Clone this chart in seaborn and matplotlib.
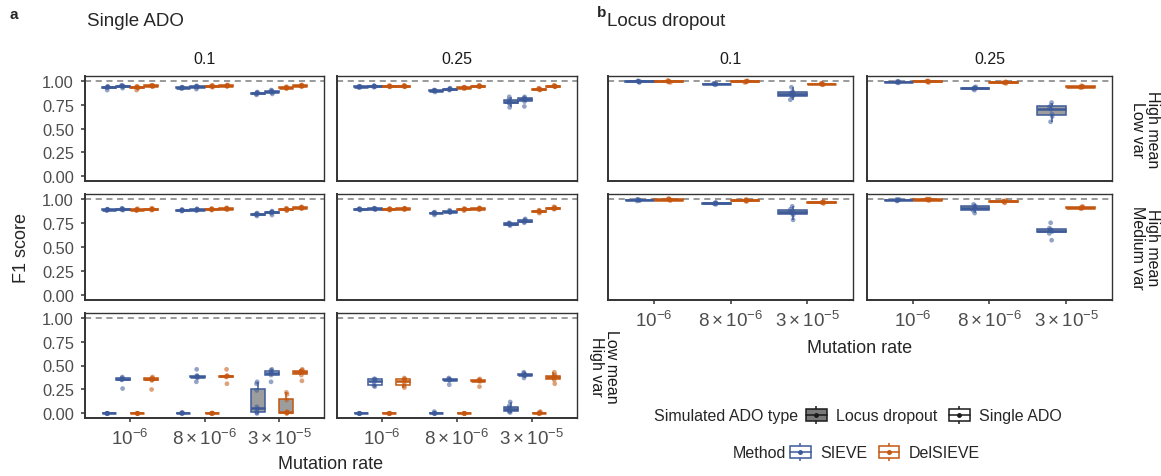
import pandas as pd
import seaborn as sns
import matplotlib
import matplotlib.pyplot as plt
from matplotlib.patches import Patch
from matplotlib.lines import Line2D

matplotlib.use('Agg')

W, H = 1161, 477

RATES = ['1e-6', '8e-6', '3e-5']
RATE_LABELS = [r'$10^{-6}$', r'$8\times10^{-6}$', r'$3\times10^{-5}$']
ADO_RATES = ['0.1', '0.25']
METHODS = ['SIEVE', 'DelSIEVE']
ADO_TYPES = ['Locus dropout', 'Single ADO']
method_colors = {'SIEVE': '#3C5A99', 'DelSIEVE': '#C4560F'}
ado_fill = {'Locus dropout': '#9D9D9D', 'Single ADO': 'white'}

# ---- panel a (simulated single ADO) ----
# per mutation rate: [SIEVE/locus, SIEVE/single, DelSIEVE/locus, DelSIEVE/single]
a_hl_010 = [
    [[0.93, 0.925, 0.935, 0.93, 0.90, 0.94], [0.945, 0.94, 0.95, 0.935, 0.945, 0.92],
     [0.93, 0.925, 0.935, 0.94, 0.90, 0.92], [0.945, 0.94, 0.95, 0.945, 0.935, 0.95]],
    [[0.925, 0.92, 0.93, 0.915, 0.925, 0.93], [0.935, 0.93, 0.94, 0.945, 0.91, 0.935],
     [0.94, 0.935, 0.945, 0.93, 0.94, 0.95], [0.945, 0.94, 0.95, 0.955, 0.94, 0.945]],
    [[0.87, 0.86, 0.88, 0.85, 0.875, 0.865], [0.885, 0.875, 0.90, 0.86, 0.895, 0.88],
     [0.925, 0.92, 0.93, 0.915, 0.925, 0.935], [0.945, 0.94, 0.95, 0.955, 0.935, 0.945]],
]
a_hl_025 = [
    [[0.935, 0.93, 0.94, 0.935, 0.925, 0.94], [0.94, 0.935, 0.945, 0.94, 0.93, 0.945],
     [0.94, 0.935, 0.945, 0.94, 0.935, 0.945], [0.94, 0.935, 0.945, 0.94, 0.95, 0.935]],
    [[0.895, 0.89, 0.90, 0.88, 0.895, 0.90], [0.91, 0.905, 0.915, 0.92, 0.90, 0.91],
     [0.925, 0.92, 0.93, 0.925, 0.915, 0.93], [0.94, 0.935, 0.945, 0.94, 0.95, 0.935]],
    [[0.78, 0.76, 0.80, 0.72, 0.83, 0.77], [0.80, 0.78, 0.82, 0.73, 0.83, 0.81],
     [0.91, 0.905, 0.915, 0.90, 0.91, 0.92], [0.94, 0.935, 0.945, 0.94, 0.935, 0.95]],
]
a_hm_010 = [
    [[0.885, 0.88, 0.89, 0.885, 0.875, 0.89], [0.89, 0.885, 0.895, 0.89, 0.88, 0.90],
     [0.885, 0.88, 0.89, 0.875, 0.885, 0.895], [0.89, 0.885, 0.895, 0.89, 0.88, 0.90]],
    [[0.88, 0.875, 0.885, 0.88, 0.87, 0.885], [0.885, 0.88, 0.89, 0.885, 0.875, 0.895],
     [0.89, 0.885, 0.895, 0.89, 0.88, 0.895], [0.895, 0.89, 0.90, 0.895, 0.885, 0.905]],
    [[0.84, 0.83, 0.85, 0.82, 0.845, 0.835], [0.86, 0.85, 0.87, 0.83, 0.865, 0.855],
     [0.89, 0.88, 0.895, 0.875, 0.89, 0.90], [0.905, 0.90, 0.91, 0.905, 0.895, 0.915]],
]
a_hm_025 = [
    [[0.89, 0.885, 0.895, 0.89, 0.88, 0.895], [0.895, 0.89, 0.90, 0.895, 0.885, 0.90],
     [0.89, 0.885, 0.895, 0.88, 0.89, 0.895], [0.895, 0.89, 0.90, 0.895, 0.885, 0.90]],
    [[0.85, 0.845, 0.86, 0.83, 0.855, 0.85], [0.865, 0.86, 0.87, 0.855, 0.88, 0.865],
     [0.89, 0.885, 0.895, 0.875, 0.89, 0.895], [0.895, 0.89, 0.90, 0.895, 0.885, 0.905]],
    [[0.74, 0.73, 0.75, 0.72, 0.745, 0.735], [0.77, 0.76, 0.78, 0.75, 0.79, 0.77],
     [0.87, 0.86, 0.88, 0.85, 0.875, 0.865], [0.90, 0.895, 0.91, 0.89, 0.915, 0.90]],
]
a_lh_010 = [
    [[0.0, 0.0, 0.002, 0.0, 0.001, 0.0], [0.355, 0.35, 0.36, 0.37, 0.26, 0.38],
     [0.0, 0.0, 0.001, 0.0, 0.002, 0.0], [0.35, 0.345, 0.36, 0.37, 0.25, 0.38]],
    [[0.005, 0.0, 0.01, 0.002, 0.0, 0.008], [0.385, 0.38, 0.39, 0.395, 0.46, 0.33, 0.37],
     [0.002, 0.0, 0.005, 0.0, 0.001, 0.003], [0.385, 0.38, 0.39, 0.395, 0.46, 0.31]],
    [[0.33, 0.31, 0.24, 0.07, 0.05, 0.02, 0.01, 0.0], [0.43, 0.42, 0.45, 0.46, 0.40, 0.33],
     [0.22, 0.20, 0.14, 0.02, 0.01, 0.01, 0.0, 0.005], [0.43, 0.44, 0.45, 0.46, 0.40, 0.34]],
]
a_lh_025 = [
    [[0.0, 0.0, 0.001, 0.0, 0.002, 0.0], [0.28, 0.29, 0.32, 0.35, 0.36, 0.36],
     [0.0, 0.001, 0.0, 0.0, 0.002, 0.0], [0.27, 0.29, 0.32, 0.35, 0.36, 0.37]],
    [[0.0, 0.005, 0.02, 0.0, 0.002, 0.0], [0.35, 0.345, 0.355, 0.36, 0.37, 0.30],
     [0.0, 0.001, 0.0, 0.002, 0.0, 0.0], [0.34, 0.335, 0.345, 0.35, 0.36, 0.28]],
    [[0.12, 0.08, 0.06, 0.05, 0.02, 0.01, 0.03], [0.40, 0.395, 0.405, 0.42, 0.43, 0.37],
     [0.0, 0.005, 0.02, 0.0, 0.01, 0.0], [0.38, 0.375, 0.385, 0.40, 0.43, 0.31, 0.35]],
]

# ---- panel b (simulated locus dropout) ----
# per mutation rate: [SIEVE/locus, DelSIEVE/locus]
b_hl_010 = [
    [[0.99, 0.985, 0.995, 0.98, 0.99, 0.995], [0.99, 0.985, 0.995, 0.99, 0.98, 1.0]],
    [[0.965, 0.96, 0.97, 0.955, 0.965, 0.97], [0.99, 0.985, 0.995, 0.98, 0.99, 0.995]],
    [[0.86, 0.84, 0.885, 0.80, 0.93, 0.87, 0.835], [0.965, 0.96, 0.97, 0.96, 0.955, 0.97]],
]
b_hl_025 = [
    [[0.985, 0.98, 0.99, 0.975, 0.985, 0.99], [0.99, 0.985, 0.995, 0.99, 0.98, 0.995]],
    [[0.92, 0.915, 0.925, 0.90, 0.935, 0.92], [0.98, 0.975, 0.985, 0.98, 0.97, 0.985]],
    [[0.70, 0.625, 0.74, 0.77, 0.57, 0.72, 0.65], [0.935, 0.93, 0.94, 0.925, 0.935, 0.945]],
]
b_hm_010 = [
    [[0.985, 0.98, 0.99, 0.985, 0.975, 0.99], [0.99, 0.985, 0.995, 0.99, 0.98, 1.0]],
    [[0.95, 0.945, 0.955, 0.94, 0.96, 0.95], [0.98, 0.975, 0.985, 0.98, 0.97, 0.99]],
    [[0.86, 0.83, 0.89, 0.78, 0.92, 0.85, 0.87], [0.96, 0.955, 0.965, 0.96, 0.95, 0.97]],
]
b_hm_025 = [
    [[0.985, 0.98, 0.99, 0.985, 0.975, 0.99], [0.99, 0.985, 0.995, 0.99, 0.98, 0.995]],
    [[0.905, 0.88, 0.925, 0.85, 0.94, 0.90], [0.97, 0.965, 0.975, 0.97, 0.955, 0.98]],
    [[0.67, 0.64, 0.695, 0.57, 0.75, 0.66, 0.68], [0.905, 0.90, 0.91, 0.905, 0.895, 0.92]],
]

combos_a = [(m, a) for m in METHODS for a in ADO_TYPES]
combos_b = [(m, 'Locus dropout') for m in METHODS]

records = []
def add(panel, scen, ado_rate, groups, combos):
    for rate, grp in zip(RATES, groups):
        for (m, a), vals in zip(combos, grp):
            for v in vals:
                records.append((panel, scen, ado_rate, rate, m, a, v))

add('a', 'hl', '0.1', a_hl_010, combos_a)
add('a', 'hl', '0.25', a_hl_025, combos_a)
add('a', 'hm', '0.1', a_hm_010, combos_a)
add('a', 'hm', '0.25', a_hm_025, combos_a)
add('a', 'lh', '0.1', a_lh_010, combos_a)
add('a', 'lh', '0.25', a_lh_025, combos_a)
add('b', 'hl', '0.1', b_hl_010, combos_b)
add('b', 'hl', '0.25', b_hl_025, combos_b)
add('b', 'hm', '0.1', b_hm_010, combos_b)
add('b', 'hm', '0.25', b_hm_025, combos_b)

df = pd.DataFrame(records, columns=['panel', 'scen', 'ado_rate', 'rate', 'method', 'ado', 'f1'])
df['combo'] = df['method'] + ' | ' + df['ado']

sns.set_theme(style='white')
plt.rcParams['font.family'] = ['Liberation Sans', 'DejaVu Sans']
plt.rcParams['mathtext.fontset'] = 'custom'
plt.rcParams['mathtext.rm'] = 'Liberation Sans'
plt.rcParams['mathtext.it'] = 'Liberation Sans:italic'
plt.rcParams['mathtext.bf'] = 'Liberation Sans:bold'

fig = plt.figure(figsize=(W / 100, H / 100), dpi=100)


def px_axes(l, r, t, b):
    return fig.add_axes([l / W, 1 - b / H, (r - l) / W, (b - t) / H])


def draw(ax, sub, combos):
    hue_order = [m + ' | ' + a for m, a in combos]
    ax.axhline(1, color='#7F7F7F', ls=(0, (4, 3)), lw=1.1, zorder=0)
    for m in METHODS:
        d = sub[sub['method'] == m]
        sns.boxplot(data=d, x='rate', y='f1', hue='combo', order=RATES, hue_order=hue_order,
                    palette={c: ado_fill[c.split(' | ')[1]] for c in hue_order},
                    linecolor=method_colors[m], saturation=1, width=0.75, dodge=True,
                    showfliers=False, showcaps=False, linewidth=1.1, legend=False, ax=ax,
                    medianprops={'linewidth': 1.8})
        sns.stripplot(data=d, x='rate', y='f1', hue='combo', order=RATES, hue_order=hue_order,
                      palette={c: method_colors[m] for c in hue_order}, dodge=True, jitter=0.04,
                      size=3.4, alpha=0.55, linewidth=0, legend=False, ax=ax, zorder=3)
    ax.set_xlim(-0.6, 2.6)
    ax.set_ylim(-0.047, 1.047)
    ax.set_xlabel('')
    ax.set_ylabel('')
    ax.set_yticks([0, 0.25, 0.5, 0.75, 1.0])
    ax.set_yticklabels(['0.00', '0.25', '0.50', '0.75', '1.00'])
    ax.set_xticks([0, 1, 2])
    ax.set_xticklabels(RATE_LABELS)
    for side, sp in ax.spines.items():
        sp.set_visible(True)
        sp.set_color('#333333')
        sp.set_linewidth(1.4 if side in ('left', 'bottom') else 1.0)
    ax.tick_params(length=3, width=1.1, color='#333333', labelcolor='#4D4D4D',
                   labelsize=11.8, pad=5, left=True, bottom=True)
    ax.tick_params(axis='x', labelsize=13.5, pad=4)


cols_a = [(85, 324), (337, 577)]
cols_b = [(608, 853), (867, 1112)]
rows_px = [(77, 182), (195, 301), (314, 419)]
scen_order = ['hl', 'hm', 'lh']
scen_labels = {'hl': 'High mean\nLow var', 'hm': 'High mean\nMedium var', 'lh': 'Low mean\nHigh var'}

for panel, cols, nrow, combos in [('a', cols_a, 3, combos_a), ('b', cols_b, 2, combos_b)]:
    for i in range(nrow):
        for j, (l, r) in enumerate(cols):
            t, b = rows_px[i]
            ax = px_axes(l, r, t, b)
            sub = df[(df['panel'] == panel) & (df['scen'] == scen_order[i]) & (df['ado_rate'] == ADO_RATES[j])]
            draw(ax, sub, combos)
            show_y = (panel == 'a' and j == 0)
            ax.tick_params(left=show_y, labelleft=show_y)
            show_x = (i == nrow - 1)
            ax.tick_params(bottom=show_x, labelbottom=show_x)
            if i == 0:
                ax.set_title(ADO_RATES[j], fontsize=11.5, pad=9, color='#1A1A1A')
            if j == 1 and (panel == 'b' or i == 2):
                off = 33 if panel == 'b' else 27
                ax.text(1 + off / (r - l), 0.5, scen_labels[scen_order[i]], transform=ax.transAxes,
                        rotation=270, ha='center', va='center', multialignment='center',
                        fontsize=11.5, color='#1A1A1A', linespacing=0.95)

# titles and axis labels
fig.text(10 / W, 1 - 15 / H, 'a', fontsize=11, fontweight='bold', va='center')
fig.text(87 / W, 1 - 22 / H, 'Single ADO', fontsize=13.5, va='center')
fig.text(597 / W, 1 - 13 / H, 'b', fontsize=11, fontweight='bold', va='center')
fig.text(607 / W, 1 - 22 / H, 'Locus dropout', fontsize=13.5, va='center')
fig.text(22 / W, 1 - 248 / H, 'F1 score', rotation=90, fontsize=13, ha='center', va='center')
fig.text(331 / W, 1 - 465 / H, 'Mutation rate', fontsize=13, ha='center', va='center')
fig.text(860 / W, 1 - 349 / H, 'Mutation rate', fontsize=13, ha='center', va='center')


# legends
def key(fill, edge):
    whisk = Line2D([], [], color=edge, lw=1.1, marker='|', markersize=13, markeredgewidth=1.1, linestyle='none')
    box = Patch(facecolor=fill, edgecolor=edge, linewidth=1.1)
    med = Line2D([], [], color=edge, lw=1.1, marker='o', markersize=2.5)
    return (whisk, box, med)


fig.text(798 / W, 1 - 417 / H, 'Simulated ADO type', fontsize=11.5, ha='right', va='center')
leg1 = fig.legend([key('#7A7A7A', '#1A1A1A'), key('white', '#1A1A1A')], ADO_TYPES,
                  loc='center left', bbox_to_anchor=(806 / W, 1 - 417 / H), ncol=2, frameon=False,
                  fontsize=11.5, handlelength=1.3, handleheight=0.75, handletextpad=0.6,
                  columnspacing=0.7, borderpad=0, borderaxespad=0)
fig.text(786 / W, 1 - 454 / H, 'Method', fontsize=11.5, ha='right', va='center')
leg2 = fig.legend([key('white', method_colors[m]) for m in METHODS], METHODS,
                  loc='center left', bbox_to_anchor=(790 / W, 1 - 454 / H), ncol=2, frameon=False,
                  fontsize=11.5, handlelength=1.3, handleheight=0.75, handletextpad=0.6,
                  columnspacing=0.7, borderpad=0, borderaxespad=0)

fig.savefig('out.png', dpi=100)
